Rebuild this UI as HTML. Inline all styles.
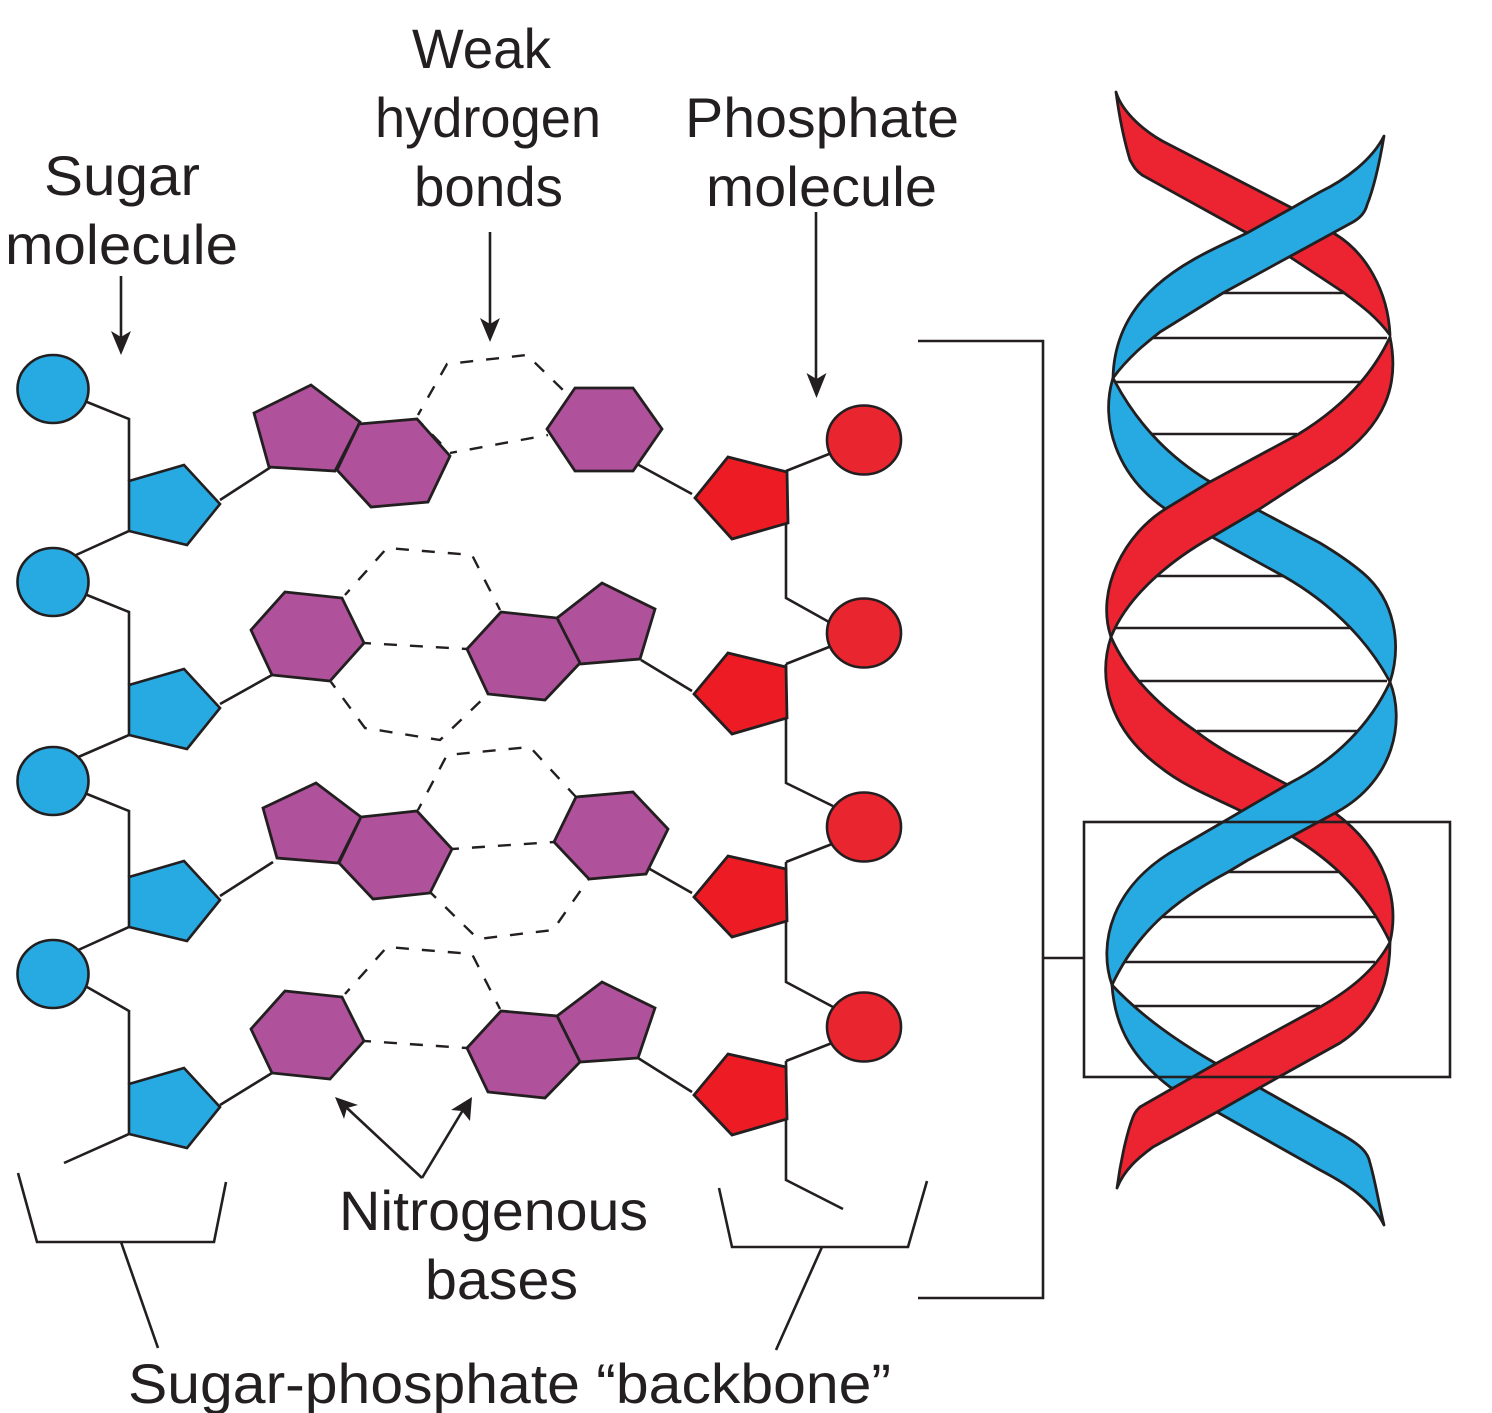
<!DOCTYPE html>
<html>
<head>
<meta charset="utf-8">
<style>
html,body{margin:0;padding:0;background:#fff}
svg{display:block}
text{font-family:"Liberation Sans",Arial,sans-serif;font-size:56px;fill:#231f20}
.l{fill:none;stroke:#231f20;stroke-width:2.6}
.d{fill:none;stroke:#231f20;stroke-width:2.4;stroke-dasharray:13 13;stroke-dashoffset:6}
.b{fill:#27aae1;stroke:#231f20;stroke-width:2.6;stroke-linejoin:miter}
.r{fill:#ed1c24;stroke:#231f20;stroke-width:2.8;stroke-linejoin:miter}
.rc{fill:#e9252f;stroke:#231f20;stroke-width:2.6}
.p{fill:#b0519c;stroke:#231f20;stroke-width:2.8;stroke-linejoin:miter}
.hb{fill:#27aae1;stroke:#231f20;stroke-width:2.8;stroke-linejoin:round}
.hr{fill:#ec2330;stroke:#231f20;stroke-width:2.8;stroke-linejoin:round}
.a{fill:#231f20;stroke:none}
</style>
</head>
<body>
<svg width="1492" height="1413" viewBox="0 0 1492 1413" xmlns="http://www.w3.org/2000/svg">
<rect width="1492" height="1413" fill="#fff"/>

<!-- labels -->
<text x="412" y="68" textLength="139" lengthAdjust="spacingAndGlyphs">Weak</text>
<text x="375" y="137" textLength="226" lengthAdjust="spacingAndGlyphs">hydrogen</text>
<text x="414" y="206" textLength="149" lengthAdjust="spacingAndGlyphs">bonds</text>
<text x="44" y="195" textLength="156" lengthAdjust="spacingAndGlyphs">Sugar</text>
<text x="5" y="264" textLength="233" lengthAdjust="spacingAndGlyphs">molecule</text>
<text x="685" y="137" textLength="274" lengthAdjust="spacingAndGlyphs">Phosphate</text>
<text x="706" y="206" textLength="231" lengthAdjust="spacingAndGlyphs">molecule</text>
<text x="339" y="1230" textLength="309" lengthAdjust="spacingAndGlyphs">Nitrogenous</text>
<text x="425" y="1299" textLength="153" lengthAdjust="spacingAndGlyphs">bases</text>
<text x="128" y="1403" textLength="763" lengthAdjust="spacingAndGlyphs">Sugar-phosphate “backbone”</text>

<!-- label arrows -->
<path class="l" d="M121,276V340M490,232V326M816,212V382M422,1178L347,1108M422,1178L463,1110"/>
<path class="a" d="M121,355L111,331L121,337L131,331Z"/>
<path class="a" d="M490,342L480,318L490,324L500,318Z"/>
<path class="a" d="M816.5,398L806.5,373L816.5,379L826.5,373Z"/>
<path class="a" d="M335,1097L358,1105L347,1108L344,1119Z"/>
<path class="a" d="M472,1097L470,1121L462,1111L451,1110Z"/>

<!-- bottom brackets -->
<path class="l" d="M18,1173L37,1242H214L226,1182M121,1242L158,1348"/>
<path class="l" d="M719,1188L732,1247H908L927,1181M822,1247L776,1350"/>

<!-- large bracket -->
<path class="l" d="M918,341H1043V1298H918M1043,958H1084"/>

<!-- dashed hydrogen rings -->
<path class="d" d="M418,415L447,364L527,355L566,393M450,453L548,435M418,420L450,453"/>
<path class="d" d="M345,595L387,548L472,555L500,610M364,643L467,649M331,682L365,728L440,740L487,695"/>
<path class="d" d="M418,810L447,755L530,747L576,797M452,849L554,842M431,893L478,939L553,930L588,880"/>
<path class="d" d="M345,994L387,947L472,954L500,1009M364,1041L467,1048"/>

<!-- left backbone lines -->
<path class="l" d="M87,402L129,419V481M129,531L76,555M220,500L271,467"/>
<path class="l" d="M87,595L129,612V685M129,735L76,758M220,704L272,675"/>
<path class="l" d="M87,794L129,811V877M129,927L76,951M220,896L273,862"/>
<path class="l" d="M87,987L129,1011V1084M129,1134L64,1163M220,1105L272,1073"/>

<!-- right backbone lines -->
<path class="l" d="M786,471L829,454M786,471V598L829,622M637,464L692,494"/>
<path class="l" d="M786,664L829,647M786,664V783L833,806M641,660L692,691"/>
<path class="l" d="M786,862L832,844M786,862V982L833,1007M648,868L692,893"/>
<path class="l" d="M786,1061L832,1043M786,1061V1180L843,1209M638,1058L692,1092"/>

<!-- blue circles -->
<ellipse class="b" cx="53" cy="389" rx="35.5" ry="34"/>
<ellipse class="b" cx="53" cy="582" rx="35.5" ry="34"/>
<ellipse class="b" cx="53" cy="781" rx="35.5" ry="34"/>
<ellipse class="b" cx="53" cy="974" rx="35.5" ry="34"/>

<!-- blue pentagons -->
<polygon class="b" points="129,481 184,465 220,504 187,545 129,531"/>
<polygon class="b" points="129,685 184,669 220,708 187,749 129,735"/>
<polygon class="b" points="129,877 184,861 220,900 187,941 129,927"/>
<polygon class="b" points="129,1084 184,1068 220,1107 187,1148 129,1134"/>

<!-- red circles -->
<ellipse class="rc" cx="864" cy="440" rx="37" ry="34.5"/>
<ellipse class="rc" cx="864" cy="633" rx="37" ry="34.5"/>
<ellipse class="rc" cx="864" cy="827" rx="37" ry="34.5"/>
<ellipse class="rc" cx="864" cy="1027" rx="37" ry="34.5"/>

<!-- red pentagons -->
<polygon class="r" points="728,457 787,472 788,523 732,539 695,498"/>
<polygon class="r" points="728,653 786,667 787,718 732,734 694,694"/>
<polygon class="r" points="728,856 786,869 787,921 732,937 694,897"/>
<polygon class="r" points="728,1054 786,1067 787,1119 732,1135 694,1095"/>

<!-- purple bases -->
<polygon class="p" points="254,413 311,385 360,422 335,471 269,467"/>
<polygon class="p" points="359,424 417,419 450,456 428,502 371,507 337,470"/>
<polygon class="p" points="575,388 633,388 662,429 633,471 575,471 547,429"/>

<polygon class="p" points="285,592 342,598 364,643 330,681 272,675 251,630"/>
<polygon class="p" points="557,618 602,583 655,609 640,659 580,664"/>
<polygon class="p" points="467,649 501,612 557,618 580,663 545,700 488,694"/>

<polygon class="p" points="263,808 316,783 361,817 338,863 277,858"/>
<polygon class="p" points="361,817 417,811 452,849 430,893 373,899 339,863"/>
<polygon class="p" points="554,842 576,797 633,792 668,829 646,874 589,879"/>

<polygon class="p" points="285,991 342,997 364,1041 330,1079 272,1073 251,1029"/>
<polygon class="p" points="557,1016 602,982 655,1008 638,1058 580,1062"/>
<polygon class="p" points="467,1048 501,1011 557,1016 580,1062 545,1098 488,1092"/>

<!-- helix rungs -->
<path class="l" d="M1223,293H1345M1152,338H1387M1113,382H1362M1147,434H1297M1153,576H1285M1115,628H1353M1137,681H1387M1197,731H1360M1228,872H1338M1160,917H1377M1122,962H1375M1133,1006H1320"/>

<!-- helix -->
<path class="hr" d="M1116,92C1122,112 1145,133 1170,145L1292,208L1335,234C1365,252 1388,290 1390,335C1375,315 1360,305 1343,292L1290,257L1247,233L1142,175C1135,170 1133,165 1130,160C1124,140 1119,115 1116,92Z"/>
<path class="hb" d="M1384,136C1372,160 1345,180 1320,192L1292,208L1247,233C1205,254 1115,285 1113,378C1130,355 1150,340 1160,332L1223,293L1353,222C1360,218 1365,213 1367,205C1375,185 1380,160 1384,136Z"/>
<path class="hb" d="M1113,378C1100,420 1115,475 1167,510C1180,520 1195,528 1212,537L1285,577C1325,600 1365,635 1390,682C1402,645 1395,600 1363,573C1350,562 1335,552 1320,543L1258,510L1207,480C1175,460 1140,430 1113,378Z"/>
<path class="hr" d="M1390,337C1400,385 1385,425 1335,460L1258,510L1212,537C1180,555 1130,590 1111,637C1095,590 1125,533 1167,508L1208,483L1297,435C1335,412 1370,380 1390,337Z"/>
<path class="hr" d="M1111,637C1097,680 1110,730 1160,767C1185,787 1215,798 1243,812L1293,837C1330,860 1365,890 1390,942C1400,900 1385,850 1335,813L1288,785C1250,765 1220,750 1197,732C1165,710 1130,680 1111,637Z"/>
<path class="hb" d="M1390,682C1405,720 1395,780 1337,812L1248,860L1228,872C1185,895 1140,925 1112,985C1098,945 1110,885 1180,847L1223,822L1290,783C1335,760 1370,725 1390,682Z"/>
<path class="hb" d="M1112,985C1115,1030 1135,1060 1170,1087L1217,1112L1320,1170C1345,1183 1372,1200 1384,1225C1378,1200 1375,1180 1370,1163C1368,1152 1360,1145 1343,1135L1260,1088L1215,1063C1175,1040 1140,1015 1112,985Z"/>
<path class="hr" d="M1390,942C1390,985 1375,1020 1340,1043L1277,1078L1217,1112L1153,1147C1138,1158 1124,1170 1117,1188C1120,1165 1126,1135 1133,1117C1135,1112 1137,1110 1140,1107L1217,1063L1320,1007C1350,990 1375,970 1390,942Z"/>

<!-- focus box -->
<rect class="l" x="1084" y="822" width="366" height="255"/>
</svg>
</body>
</html>
